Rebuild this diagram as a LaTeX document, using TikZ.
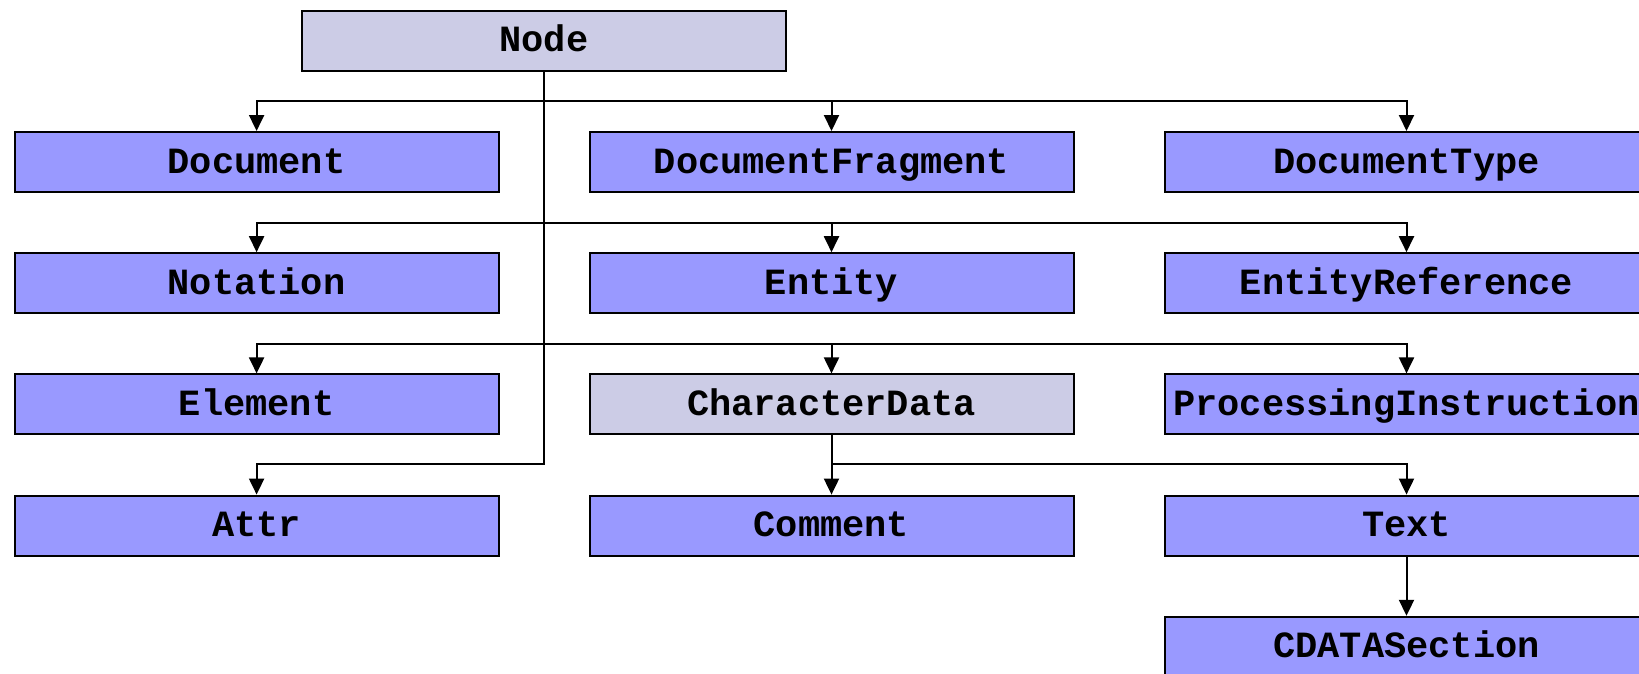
\documentclass[tikz,border=0pt]{standalone}
\usepackage{fontspec}
\newfontfamily\courfont{Liberation Mono}
\usetikzlibrary{arrows.meta}
\definecolor{lightbox}{RGB}{204,204,230}
\definecolor{bluebox}{RGB}{153,153,255}
\tikzset{
  cls/.style={draw=black, line width=2pt, fill=bluebox, minimum width=484pt, minimum height=60pt, inner sep=0pt, text height=22pt, text depth=0pt, font=\courfont\bfseries\fontsize{37}{40}\selectfont},
  abs/.style={cls, fill=lightbox},
  arr/.style={line width=2pt, -{Triangle[length=16pt,width=15pt]}}
}
\begin{document}
\begin{tikzpicture}[x=1pt,y=-1pt]
\useasboundingbox (0,0) rectangle (1639,673);
\clip (0,0) rectangle (1639,673);
\fill[white] (0,0) rectangle (1639,673);
\node[abs] (node) at (544,40.8) {Node};
\node[cls] (document) at (256.6,162) {Document};
\node[cls] (docfrag) at (831.5,162) {DocumentFragment};
\node[cls] (doctype) at (1406.5,162) {DocumentType};
\node[cls] (notation) at (256.6,283.2) {Notation};
\node[cls] (entity) at (831.5,283.2) {Entity};
\node[cls] (entref) at (1406.5,283.2) {EntityReference};
\node[cls] (element) at (256.6,404.4) {Element};
\node[abs] (chardata) at (831.5,404.4) {CharacterData};
\node[cls] (procinst) at (1406.5,404.4) {ProcessingInstruction};
\node[cls] (attr) at (256.6,525.6) {Attr};
\node[cls] (comment) at (831.5,525.6) {Comment};
\node[cls] (text) at (1406.5,525.6) {Text};
\node[cls] (cdata) at (1406.5,646.8) {CDATASection};
\coordinate (b1) at (0,101.4);
\coordinate (b2) at (0,222.7);
\coordinate (b3) at (0,343.9);
\coordinate (b4) at (0,464.2);
% Node to children
\draw[arr] (node.south) |- (document.north |- b1) -- (document.north);
\draw[arr] (node.south) |- (docfrag.north |- b1) -- (docfrag.north);
\draw[arr] (node.south) |- (doctype.north |- b1) -- (doctype.north);
\draw[arr] (node.south) |- (notation.north |- b2) -- (notation.north);
\draw[arr] (node.south) |- (entity.north |- b2) -- (entity.north);
\draw[arr] (node.south) |- (entref.north |- b2) -- (entref.north);
\draw[arr] (node.south) |- (element.north |- b3) -- (element.north);
\draw[arr] (node.south) |- (chardata.north |- b3) -- (chardata.north);
\draw[arr] (node.south) |- (procinst.north |- b3) -- (procinst.north);
\draw[arr] (node.south) |- (attr.north |- b4) -- (attr.north);
% CharacterData to children
\draw[arr] (chardata.south) -- (comment.north);
\draw[arr] (chardata.south) |- (text.north |- b4) -- (text.north);
% Text to CDATASection
\draw[arr] (text.south) -- (cdata.north);
\end{tikzpicture}
\end{document}
